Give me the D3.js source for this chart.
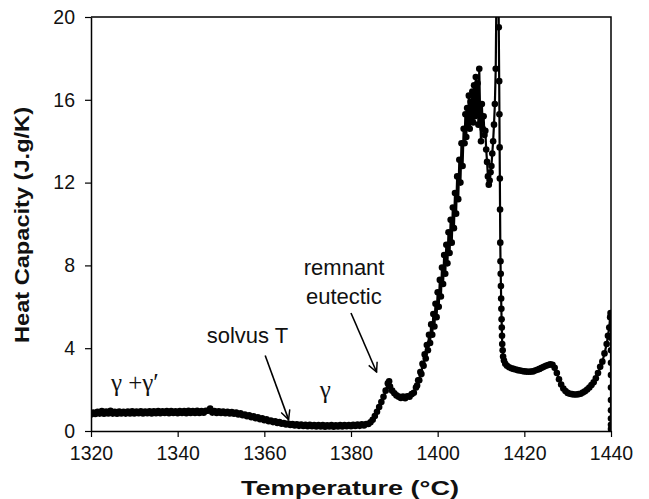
<!DOCTYPE html>
<html><head><meta charset="utf-8">
<script src="https://cdn.jsdelivr.net/npm/d3@7"></script>
<style>body{margin:0;background:#fff;} svg{display:block;}</style>
</head><body>
<svg id="c" width="649" height="499"></svg>
<script>
// ---- data ----
const temperature = [
1320,1320.5,1321,1321.5,1322,1322.5,1323,1323.5,1324,1324.5,1325,1325.5,1326,1326.5,1327,1327.5,1328,1328.5,1329,1329.5,
1330,1330.5,1331,1331.5,1332,1332.5,1333,1333.5,1334,1334.5,1335,1335.5,1336,1336.5,1337,1337.5,1338,1338.5,1339,1339.5,
1340,1340.5,1341,1341.5,1342,1342.5,1343,1343.5,1344,1344.5,1345,1345.5,1346,1346.5,1347,1347.5,1348,1348.5,1349,1349.5,
1350,1350.5,1351,1351.5,1352,1352.5,1353,1353.5,1354,1354.5,1355,1355.5,1356,1356.5,1357,1357.5,1358,1358.5,1359,1359.5,
1360,1360.5,1361,1361.5,1362,1362.5,1363,1363.5,1364,1364.5,1365,1365.5,1366,1366.5,1367,1367.5,1368,1368.5,1369,1369.5,
1370,1370.5,1371,1371.5,1372,1372.5,1373,1373.5,1374,1374.5,1375,1375.5,1376,1376.5,1377,1377.5,1378,1378.5,1379,1379.5,
1380,1380.5,1381,1381.5,1382,1382.5,1383,1383.5,1384,1384.5,1385,1385.5,1386,1386.5,1387,1387.5,1388,1388.5,1388.8,1389,
1389.5,1390,1390.5,1391,1391.5,1392,1392.5,1393,1393.5,1394,1394.5,1395,1395.25,1395.5,1395.75,1396,1396.25,1396.5,1396.75,1397,
1397.25,1397.5,1397.75,1398,1398.25,1398.5,1398.75,1399,1399.25,1399.5,1399.75,1400,1400.25,1400.5,1400.75,1401,1401.25,1401.5,1401.75,1402,
1402.25,1402.5,1402.75,1403,1403.25,1403.5,1403.75,1404,1404.25,1404.5,1404.75,1405,1405.25,1405.5,1405.75,1406,1406.2,1406.4,1406.6,1406.8,
1407,1407.2,1407.4,1407.6,1407.8,1408,1408.2,1408.4,1408.6,1408.8,1409,1409.2,1409.4,1409.6,1409.8,1410,1410.2,1410.4,1410.6,1410.8,
1411,1411.2,1411.4,1411.6,1411.8,1412,1412.2,1412.4,1412.6,1412.8,1413,1413.2,1413.4,1413.6,1413.9,1414.1,1414.2,1414.25,1414.3,1414.35,
1414.4,1414.45,1414.5,1414.55,1414.6,1414.65,1414.7,1414.75,1414.8,1414.85,1414.9,1415,1415.1,1415.3,1415.6,1416,1416.5,1417,1417.5,1418,
1418.5,1419,1419.5,1420,1420.5,1421,1421.5,1422,1422.5,1423,1423.5,1424,1424.5,1425,1425.5,1426,1426.5,1427,1427.5,1428,
1428.5,1429,1429.5,1430,1430.5,1431,1431.5,1432,1432.5,1433,1433.5,1434,1434.5,1435,1435.5,1436,1436.5,1437,1437.5,1438,
1438.5,1439,1439.3,1439.6,1439.8,1439.9,1440,1440,1440,1440,1440,1440,1440,1440,1440,1440,1440
];
const heatCapacity = [
0.80,0.89,0.82,0.93,0.84,0.96,0.83,0.94,0.85,0.98,0.84,0.93,0.83,0.94,0.85,0.93,0.84,0.94,0.85,0.95,
0.85,0.94,0.86,0.95,0.85,0.94,0.86,0.95,0.85,0.95,0.86,0.96,0.86,0.95,0.87,0.96,0.86,0.96,0.87,0.95,
0.86,0.96,0.87,0.96,0.86,0.97,0.87,0.96,0.87,0.97,0.87,0.96,0.88,0.97,0.98,1.08,0.89,0.96,0.87,0.95,
0.87,0.94,0.86,0.93,0.85,0.91,0.83,0.89,0.80,0.85,0.76,0.80,0.71,0.76,0.67,0.71,0.62,0.66,0.57,0.61,
0.52,0.56,0.47,0.51,0.43,0.47,0.39,0.43,0.35,0.39,0.32,0.36,0.29,0.33,0.27,0.32,0.25,0.31,0.24,0.30,
0.23,0.30,0.23,0.29,0.22,0.29,0.22,0.29,0.21,0.28,0.22,0.29,0.21,0.28,0.22,0.29,0.22,0.29,0.23,0.29,
0.23,0.30,0.24,0.31,0.25,0.32,0.27,0.34,0.34,0.42,0.54,0.72,0.93,1.16,1.40,1.65,1.95,2.30,2.40,2.15,
1.95,1.82,1.72,1.66,1.60,1.66,1.58,1.68,1.66,1.78,1.85,2.10,2.20,2.45,2.45,2.85,2.75,3.25,3.15,3.70,
3.50,4.15,3.90,4.65,4.25,5.15,4.65,5.65,5.05,6.15,5.50,6.70,6.00,7.30,6.50,7.90,7.10,8.50,7.60,9.00,
8.10,9.60,8.60,10.2,9.10,10.8,9.80,11.5,10.5,12.3,11.2,13.1,12.0,13.9,12.8,14.6,13.9,15.3,14.2,15.6,
14.8,16.2,14.6,15.9,15.0,16.4,14.9,16.7,15.2,17.1,15.4,16.8,14.8,17.5,15.3,14.0,15.8,14.6,15.2,14.3,
14.5,13.6,13.0,12.3,11.9,12.1,12.5,12.8,13.4,14.0,14.8,15.8,17.5,22.0,26.0,19.5,16.9,15.3,13.7,12.2,
10.7,9.1,8.2,7.6,7.0,6.4,5.9,5.4,5.0,4.6,4.2,3.9,3.6,3.40,3.25,3.15,3.08,3.03,3.00,2.97,
2.94,2.92,2.90,2.88,2.87,2.86,2.87,2.88,2.92,2.96,3.00,3.05,3.10,3.15,3.19,3.22,3.20,3.05,2.80,2.50,
2.25,2.05,1.93,1.84,1.80,1.78,1.76,1.76,1.78,1.80,1.86,1.92,2.00,2.10,2.22,2.35,2.55,2.80,3.10,3.35,
3.75,4.20,4.60,5.00,5.50,5.70,5.0,4.5,3.9,3.3,2.7,2.1,1.5,1.0,0.6,0.3,0.1
];
const xTicks = [1320,1340,1360,1380,1400,1420,1440];
const yTicks = [0,4,8,12,16,20];
const xTitle = "Temperature (°C)";
const yTitle = "Heat Capacity (J.g/K)";
const annotations = [
  {text:"γ +γ′", t:1324.6, v:1.95, serif:true},
  {text:"γ", t:1372.8, v:1.6, serif:true},
  {text:"solvus T", t:1346.7, v:4.25},
  {text:"remnant", t:1369.1, v:7.55},
  {text:"eutectic", t:1369.6, v:6.15}
];
const arrows = [
  {t0:1360.2, v0:3.65, t1:1365.6, v1:0.55},
  {t0:1380.0, v0:5.7, t1:1385.9, v1:2.85}
];

// ---- chart ----
const svg = d3.select("#c");
const x = d3.scaleLinear().domain([1320,1440]).range([91,611]);
const y = d3.scaleLinear().domain([0,20]).range([431,17]);
const font = "Arial, 'Liberation Sans', sans-serif";

svg.append("defs").append("clipPath").attr("id","plot")
  .append("rect").attr("x",x(1320)).attr("y",y(20)).attr("width",x(1440)-x(1320)).attr("height",y(0)-y(20));

// frame (top + right)
svg.append("path")
  .attr("d",`M${x(1320)},${y(20)}H${x(1440)}V${y(0)}`)
  .attr("fill","none").attr("stroke","#000").attr("stroke-width",1.5);

// axes
const xAxis = svg.append("g").attr("transform",`translate(0,${y(0)})`)
  .call(d3.axisBottom(x).tickValues(xTicks).tickSize(6).tickSizeOuter(0).tickPadding(9).tickFormat(d3.format("d")));
const yAxis = svg.append("g").attr("transform",`translate(${x(1320)},0)`)
  .call(d3.axisLeft(y).tickValues(yTicks).tickSize(6).tickSizeOuter(0).tickPadding(10));
[xAxis,yAxis].forEach(a=>{
  a.select(".domain").attr("stroke","#000").attr("stroke-width",1.5);
  a.selectAll(".tick line").attr("stroke","#000").attr("stroke-width",1.2);
  a.selectAll("text").attr("font-family",font).attr("font-size",19.5).attr("fill","#111");
});

// data
const pts = temperature.map((t,i)=>[t,heatCapacity[i]]);
const g = svg.append("g").attr("clip-path","url(#plot)");
g.append("path").datum(pts)
  .attr("d",d3.line().x(d=>x(d[0])).y(d=>y(d[1])))
  .attr("fill","none").attr("stroke","#000").attr("stroke-width",2.2);
g.selectAll("circle").data(pts).join("circle")
  .attr("cx",d=>x(d[0])).attr("cy",d=>y(d[1])).attr("r",3.3).attr("fill","#000");

// titles
svg.append("text").attr("x",350).attr("y",495).attr("text-anchor","middle")
  .attr("font-family",font).attr("font-weight","bold").attr("font-size",21)
  .attr("textLength",218).attr("lengthAdjust","spacingAndGlyphs").attr("fill","#111").text(xTitle);
svg.append("text").attr("transform","translate(29,225) rotate(-90)").attr("text-anchor","middle")
  .attr("font-family",font).attr("font-weight","bold").attr("font-size",21)
  .attr("textLength",236).attr("lengthAdjust","spacingAndGlyphs").attr("fill","#111").text(yTitle);

// annotations
annotations.forEach(a=>{
  svg.append("text").attr("x",x(a.t)).attr("y",y(a.v))
    .attr("font-family",a.serif?"'Liberation Serif','Times New Roman',serif":font)
    .attr("font-size",a.serif?25:22).attr("fill","#111").text(a.text);
});
svg.select("defs").append("marker").attr("id","ah").attr("viewBox","0 0 12 12")
  .attr("refX",11).attr("refY",6).attr("markerWidth",11).attr("markerHeight",11)
  .attr("markerUnits","userSpaceOnUse").attr("orient","auto")
  .append("path").attr("d","M1,1L11,6L1,11").attr("fill","none").attr("stroke","#000").attr("stroke-width",1.6);
arrows.forEach(a=>{
  svg.append("line").attr("x1",x(a.t0)).attr("y1",y(a.v0)).attr("x2",x(a.t1)).attr("y2",y(a.v1))
    .attr("stroke","#000").attr("stroke-width",1.6).attr("marker-end","url(#ah)");
});
</script>
</body></html>
